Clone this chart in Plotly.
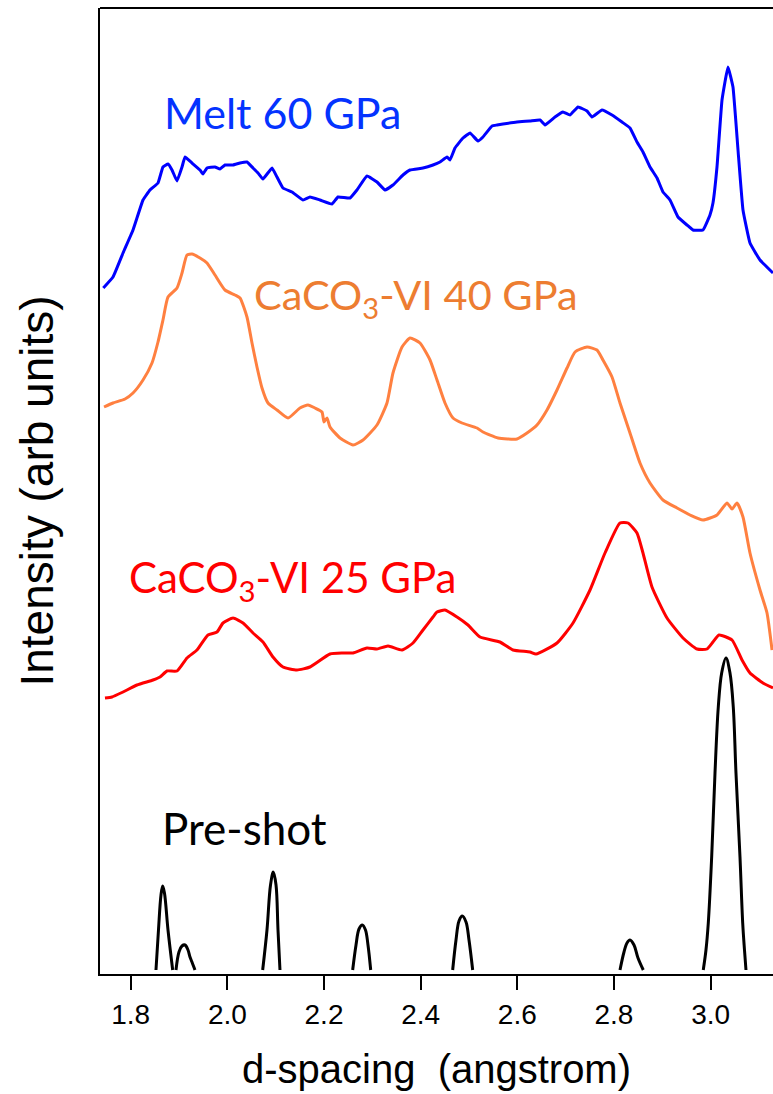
import plotly.graph_objects as go

# ---- data (d-spacing in angstrom, intensity in arbitrary offset units) ----
melt_d = [1.7433, 1.7634, 1.7841, 1.8048, 1.8255, 1.8399, 1.8565, 1.8668, 1.8772, 1.8855,
          1.8958, 1.9062, 1.9124, 1.9268, 1.9434, 1.9496, 1.9579, 1.9744, 1.9848, 1.9951,
          2.0117, 2.0262, 2.0406, 2.0531, 2.0634, 2.0737, 2.0924, 2.1027, 2.1151, 2.1338,
          2.1565, 2.1710, 2.1917, 2.2165, 2.2289, 2.2538, 2.2682, 2.2889, 2.3096, 2.3262,
          2.3427, 2.3634, 2.3779, 2.4048, 2.4255, 2.4400, 2.4545, 2.4607, 2.4710, 2.4876,
          2.5020, 2.5186, 2.5289, 2.5476, 2.5579, 2.5703, 2.5993, 2.6262, 2.6469, 2.6572,
          2.6779, 2.6945, 2.7090, 2.7255, 2.7441, 2.7545, 2.7752, 2.7959, 2.8165, 2.8331,
          2.8476, 2.8600, 2.8745, 2.8890, 2.9014, 2.9159, 2.9324, 2.9510, 2.9635, 2.9841,
          2.9986, 3.0048, 3.0131, 3.0235, 3.0359, 3.0462, 3.0566, 3.0669, 3.0814, 3.1021,
          3.1290]
melt_i = [686, 697, 721, 744, 774, 784, 791, 807, 810, 804,
          793, 807, 817, 811, 804, 800, 806, 807, 805, 809,
          809, 811, 812, 806, 801, 795, 806, 797, 786, 782,
          774, 777, 774, 770, 777, 776, 784, 798, 792, 784,
          789, 799, 804, 806, 809, 812, 817, 814, 826, 836,
          841, 833, 837, 848, 849, 850, 852, 853, 854, 849,
          857, 862, 859, 867, 863, 857, 864, 859, 852, 846,
          832, 822, 807, 796, 782, 774, 757, 749, 744, 744,
          759, 771, 807, 874, 907, 887, 824, 764, 731, 714,
          701]

vi40_d = [1.7448, 1.7634, 1.7883, 1.8048, 1.8255, 1.8441, 1.8565, 1.8668, 1.8772, 1.8958,
          1.9062, 1.9165, 1.9268, 1.9434, 1.9579, 1.9744, 1.9951, 2.0158, 2.0262, 2.0406,
          2.0510, 2.0613, 2.0717, 2.0841, 2.1027, 2.1255, 2.1503, 2.1669, 2.1814, 2.1958,
          2.2000, 2.2062, 2.2124, 2.2331, 2.2600, 2.2807, 2.3096, 2.3303, 2.3427, 2.3614,
          2.3779, 2.3986, 2.4193, 2.4338, 2.4503, 2.4669, 2.4855, 2.5166, 2.5289, 2.5600,
          2.5993, 2.6200, 2.6407, 2.6614, 2.6821, 2.7028, 2.7194, 2.7441, 2.7648, 2.7772,
          2.7959, 2.8124, 2.8331, 2.8538, 2.8745, 2.9014, 2.9304, 2.9573, 2.9842, 3.0131,
          3.0338, 3.0442, 3.0545, 3.0669, 3.0814, 3.1021, 3.1166, 3.1270]
vi40_i = [567, 571, 575, 581, 594, 611, 632, 654, 677, 686,
          701, 719, 720, 716, 711, 699, 684, 679, 676, 657,
          631, 607, 586, 571, 564, 556, 566, 569, 566, 562,
          552, 556, 547, 536, 529, 534, 549, 571, 601, 627,
          636, 631, 614, 594, 571, 556, 551, 546, 542, 536,
          535, 541, 549, 564, 584, 606, 622, 627, 624, 614,
          597, 571, 541, 511, 491, 474, 466, 459, 454, 459,
          471, 465, 471, 457, 421, 384, 361, 324]

vi25_d = [1.7468, 1.7613, 1.7841, 1.8130, 1.8462, 1.8607, 1.8751, 1.8958, 1.9165, 1.9372,
          1.9599, 1.9786, 1.9910, 2.0117, 2.0324, 2.0531, 2.0737, 2.0944, 2.1151, 2.1441,
          2.1710, 2.2124, 2.2393, 2.2600, 2.2889, 2.3096, 2.3324, 2.3614, 2.3841, 2.4048,
          2.4255, 2.4338, 2.4503, 2.4752, 2.4979, 2.5228, 2.5641, 2.5910, 2.6262, 2.6386,
          2.6821, 2.7152, 2.7504, 2.7814, 2.8124, 2.8290, 2.8476, 2.8600, 2.8786, 2.9097,
          2.9428, 2.9718, 2.9924, 3.0048, 3.0173, 3.0442, 3.0649, 3.0814, 3.1083, 3.1290]
vi25_i = [276, 277, 282, 289, 294, 297, 303, 303, 316, 324,
          339, 342, 351, 356, 351, 341, 332, 317, 307, 304,
          307, 320, 321, 321, 326, 325, 328, 324, 331, 344,
          357, 362, 364, 357, 349, 337, 332, 324, 322, 320,
          331, 351, 384, 421, 451, 451, 441, 421, 387, 356,
          336, 325, 325, 332, 339, 334, 314, 301, 291, 286]

# pre-shot: separate reflections, gaps (None) between them
pre_d = [1.8523, 1.8575, 1.8627, 1.8662, 1.8699, 1.8772, 1.8869, None,
         1.8937, 1.8999, 1.9061, 1.9124, 1.9186, 1.9227, 1.9268, 1.9330, None,
         2.0731, 2.0820, 2.0893, 2.0951, 2.1007, 2.1048, 2.1089, None,
         2.2593, 2.2662, 2.2724, 2.2792, 2.2858, 2.2910, 2.2966, None,
         2.4662, 2.4731, 2.4793, 2.4861, 2.4938, 2.5000, 2.5076, None,
         2.8124, 2.8207, 2.8269, 2.8331, 2.8414, 2.8497, 2.8606, None,
         2.9847, 2.9903, 2.9951, 3.0021, 3.0090, 3.0158, 3.0228, 3.0317,
         3.0400, 3.0468, 3.0524, 3.0607, 3.0663, 3.0700, 3.0731]
pre_i = [4, 44, 79, 88, 81, 44, 4, None,
         4, 22, 28, 29, 24, 17, 12, 4, None,
         4, 44, 89, 102, 89, 44, 4, None,
         4, 29, 45, 49, 44, 29, 4, None,
         4, 34, 53, 58, 52, 34, 4, None,
         4, 22, 31, 34, 29, 16, 4, None,
         4, 24, 51, 117, 201, 267, 301, 316,
         301, 267, 201, 117, 51, 24, 4]

x_ticks = [1.8, 2.0, 2.2, 2.4, 2.6, 2.8, 3.0]
x_tick_text = ["1.8", "2.0", "2.2", "2.4", "2.6", "2.8", "3.0"]

labels = ["Melt 60 GPa", "CaCO<sub>3</sub>-VI 40 GPa", "CaCO<sub>3</sub>-VI 25 GPa", "Pre-shot"]

# ---- figure ----
fig = go.Figure()
fig.add_trace(go.Scatter(x=melt_d, y=melt_i, mode="lines",
                         line=dict(color="#0000ff", width=3, shape="spline", smoothing=0.3)))
fig.add_trace(go.Scatter(x=vi40_d, y=vi40_i, mode="lines",
                         line=dict(color="#ff8040", width=3, shape="spline", smoothing=0.5)))
fig.add_trace(go.Scatter(x=vi25_d, y=vi25_i, mode="lines",
                         line=dict(color="#ff0000", width=3, shape="spline", smoothing=0.5)))
fig.add_trace(go.Scatter(x=pre_d, y=pre_i, mode="lines", connectgaps=False,
                         line=dict(color="#000000", width=3, shape="spline", smoothing=1.0)))

ann_font = "Lato, 'Open Sans', sans-serif"
fig.add_annotation(x=(162 - 100) / 673, y=(974 - 112) / 966, xref="paper", yref="paper",
                   text=labels[0], showarrow=False, xanchor="left", yanchor="middle",
                   font=dict(family=ann_font, size=43, color="#0433ff"))
fig.add_annotation(x=(252 - 100) / 673, y=(974 - 297) / 966, xref="paper", yref="paper",
                   text=labels[1], showarrow=False, xanchor="left", yanchor="middle",
                   font=dict(family=ann_font, size=41.5, color="#ed7d31"))
fig.add_annotation(x=(127 - 100) / 673, y=(974 - 580) / 966, xref="paper", yref="paper",
                   text=labels[2], showarrow=False, xanchor="left", yanchor="middle",
                   font=dict(family=ann_font, size=42, color="#ff0000"))
fig.add_annotation(x=(160 - 100) / 673, y=(974 - 828) / 966, xref="paper", yref="paper",
                   text=labels[3], showarrow=False, xanchor="left", yanchor="middle",
                   font=dict(family=ann_font, size=44, color="#000000"))

# top border of the frame
fig.add_shape(type="line", xref="paper", yref="paper", x0=0, x1=1, y0=1, y1=1,
              line=dict(color="black", width=2))

fig.update_layout(
    width=773, height=1094,
    margin=dict(l=100, r=0, t=8, b=120),
    paper_bgcolor="white", plot_bgcolor="white",
    showlegend=False,
    font=dict(family="'Liberation Sans', Arial, sans-serif", color="black"),
)
fig.update_xaxes(range=[1.7365, 3.129], tickvals=x_ticks, ticktext=x_tick_text,
                 ticks="outside", ticklen=14, tickwidth=2, tickcolor="black",
                 showline=True, linewidth=2, linecolor="black",
                 showgrid=False, zeroline=False,
                 tickfont=dict(size=28, color="black"),
                 title=dict(text="d-spacing\u00a0 (angstrom)", font=dict(size=40, color="black"),
                            standoff=26))
fig.update_yaxes(range=[0, 966], showticklabels=False, ticks="",
                 showline=True, linewidth=1.5, linecolor="black",
                 showgrid=False, zeroline=False,
                 title=dict(text="Intensity (arb units)", font=dict(size=46, color="black"),
                            standoff=30))

fig.write_html("out.html")
